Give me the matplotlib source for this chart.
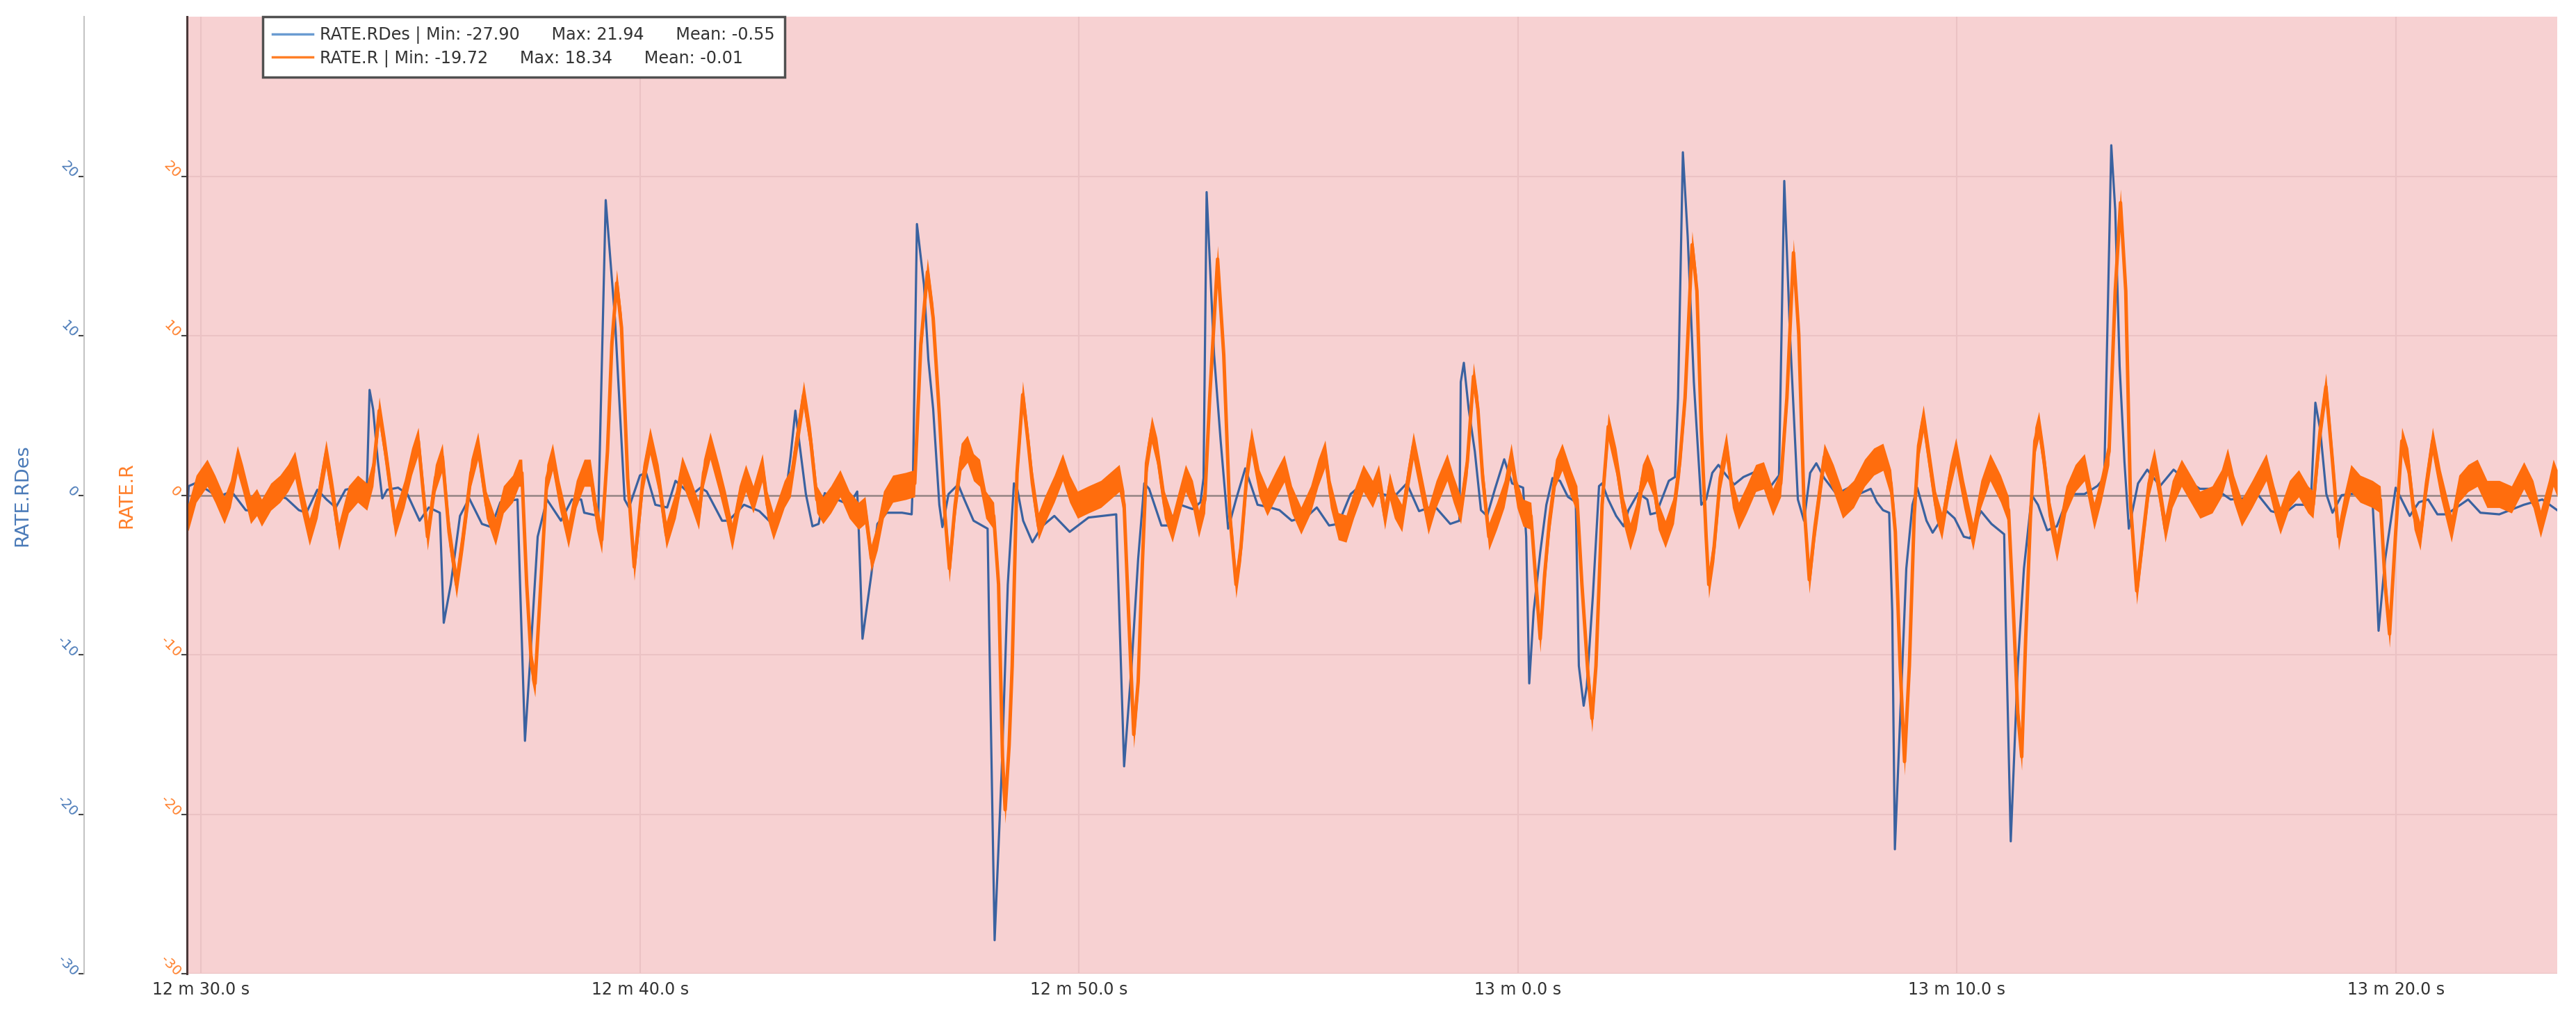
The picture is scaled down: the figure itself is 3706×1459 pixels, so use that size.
import numpy as np
import matplotlib
matplotlib.use("Agg")
import matplotlib.pyplot as plt
from matplotlib.ticker import FuncFormatter
from matplotlib.lines import Line2D

plt.rcParams['font.family'] = ['DejaVu Sans']
plt.rcParams['axes.unicode_minus'] = False

# time in seconds
t_rdes = [749.68, 749.72, 749.86, 750.10, 750.39, 750.60, 750.74, 751.02, 751.24, 751.45,
          751.66, 751.94, 752.23, 752.40, 752.65, 752.86, 753.07, 753.29, 753.50, 753.78,
          753.84, 753.92, 754.03, 754.13, 754.24, 754.49, 754.70, 754.98, 755.19, 755.44,
          755.53, 755.69, 755.90, 756.11, 756.40, 756.61, 756.82, 757.21, 757.28, 757.38,
          757.49, 757.67, 757.88, 758.20, 758.45, 758.66, 758.73, 759.05, 759.22, 759.43,
          759.65, 759.75, 760.00, 760.14, 760.35, 760.62, 760.81, 761.17, 761.38, 761.52,
          761.87, 762.02, 762.37, 762.72, 762.94, 763.29, 763.43, 763.54, 763.64, 763.78,
          763.93, 764.07, 764.21, 764.49, 764.77, 764.95, 764.99, 765.07, 765.27, 765.41,
          765.62, 765.97, 766.19, 766.22, 766.31, 766.47, 766.57, 766.68, 766.82, 766.89,
          767.03, 767.25, 767.39, 767.60, 767.92, 767.95, 768.08, 768.24, 768.38, 768.52,
          768.59, 768.73, 768.94, 769.16, 769.44, 769.79, 770.22, 770.85, 770.92, 771.03,
          771.20, 771.35, 771.49, 771.60, 771.88, 772.02, 772.31, 772.59, 772.77, 772.84,
          772.91, 773.08, 773.23, 773.40, 773.58, 773.79, 774.07, 774.36, 774.57, 774.85,
          775.21, 775.42, 775.70, 775.91, 776.19, 776.48, 776.90, 777.18, 777.47, 777.75,
          778.10, 778.46, 778.67, 778.70, 778.77, 778.88, 779.02, 779.16, 779.30, 779.48,
          779.69, 779.87, 780.12, 780.19, 780.26, 780.36, 780.51, 780.65, 780.79, 780.96,
          781.14, 781.32, 781.39, 781.50, 781.57, 781.71, 781.85, 781.92, 782.06, 782.24,
          782.41, 782.52, 782.74, 782.95, 783.02, 783.16, 783.44, 783.58, 783.65, 783.76,
          783.87, 784.01, 784.18, 784.29, 784.43, 784.57, 784.75, 784.93, 785.14, 785.42,
          785.70, 785.95, 786.07, 786.20, 786.38, 786.52, 786.66, 786.80, 786.98, 787.26,
          787.54, 787.82, 788.04, 788.18, 788.32, 788.46, 788.53, 788.59, 788.71, 788.85,
          788.99, 789.10, 789.31, 789.45, 789.77, 789.95, 790.16, 790.30, 790.55, 790.79,
          791.08, 791.11, 791.23, 791.39, 791.53, 791.71, 791.85, 792.06, 792.28, 792.56,
          792.91, 793.20, 793.36, 793.52, 793.61, 793.71, 793.82, 793.92, 794.13, 794.34,
          794.63, 794.94, 795.19, 795.54, 795.89, 796.24, 796.52, 796.87, 797.16, 797.44,
          797.72, 797.93, 798.07, 798.17, 798.28, 798.42, 798.56, 798.77, 799.12, 799.47,
          799.54, 799.61, 799.76, 800.00, 800.32, 800.53, 800.74, 800.95, 801.16, 801.65,
          801.93, 802.36, 802.92, 803.34, 803.68]
rdes = [-1.5, 0.57, 0.74, 0.4, -0.1, 0.13, 0.07, -0.94, -1.0, -0.27,
        0.07, -0.2, -0.94, -1.1, 0.34, -0.27, -0.77, 0.34, 0.47, 0.67,
        6.6, 5.4, 2.1, -0.2, 0.34, 0.47, 0.07, -1.6, -0.77, -1.1,
        -8.0, -5.6, -1.3, -0.2, -1.8, -2.0, -0.44, -0.27, -6.6, -15.4,
        -10.7, -2.6, -0.27, -1.6, -0.27, -0.27, -1.1, -1.3, 18.5, 11.1,
        -0.27, -0.77, 1.24, 1.4, -0.6, -0.77, 0.9, 0.0, 0.47, 0.23,
        -1.6, -1.6, -0.6, -1.0, -1.6, -0.6, 2.4, 5.3, 3.1, 0.07,
        -1.95, -1.8, 0.13, -0.27, -0.6, 0.23, -2.6, -9.0, -5.0, -1.8,
        -1.1, -1.1, -1.2, 1.07, 17.0, 13.2, 8.5, 5.4, -0.6, -2.0,
        0.07, 0.67, -0.27, -1.6, -2.1, -7.3, -27.9, -17.4, -5.6, 0.74,
        0.47, -1.6, -2.95, -1.95, -1.3, -2.3, -1.4, -1.2, -7.3, -17.0,
        -10.7, -4.0, 0.74, 0.4, -1.9, -1.9, -0.6, -0.87, -0.44, 1.07,
        19.0, 8.8, 3.4, -2.1, -0.27, 1.68, -0.6, -0.77, -0.94, -1.6,
        -1.3, -0.77, -1.9, -1.8, 0.07, 0.74, 0.07, -0.1, 0.74, -1.0,
        -0.67, -1.8, -1.6, 7.1, 8.3, 5.4, 2.75, -0.94, -1.3, 0.4,
        2.25, 0.74, 0.47, -2.6, -11.8, -7.3, -3.6, -0.6, 1.07, 0.9,
        -0.1, -0.44, -10.7, -13.2, -12.0, -6.3, 0.57, 0.74, -0.27, -1.3,
        -1.95, -0.94, 0.13, -0.27, -1.2, -1.1, 0.9, 1.14, 6.1, 21.5,
        16.2, 7.1, -0.6, -0.27, 1.4, 1.9, 1.24, 0.67, 1.14, 1.48,
        0.34, 1.24, 19.7, 10.1, -0.27, -1.6, 1.4, 2.0, 1.07, 0.07,
        0.47, 0.13, 0.4, -0.44, -0.94, -1.1, -7.3, -22.2, -14.0, -4.6,
        -0.6, 0.47, -1.6, -2.35, -1.0, -1.45, -2.6, -2.7, -1.0, -1.8,
        -2.45, -7.3, -21.7, -10.7, -4.6, 0.0, -0.6, -2.2, -1.95, 0.07,
        0.07, 0.57, 1.07, 21.94, 17.9, 8.1, 2.1, -2.1, 0.74, 1.6,
        0.57, 1.6, 1.0, 0.4, 0.4, -0.27, -0.2, 0.0, -1.0, -1.2,
        -0.6, -0.6, -0.27, 5.8, 4.1, 0.07, -1.1, 0.0, 0.13, -0.27,
        -4.0, -8.5, -4.0, 0.47, -1.3, -0.44, -0.27, -1.2, -1.2, -0.27,
        -1.1, -1.2, -0.6, -0.27, -0.94]

t_r = [749.68, 749.72, 749.89, 750.14, 750.32, 750.53, 750.67, 750.83, 750.95, 751.13,
       751.27, 751.38, 751.59, 751.80, 751.98, 752.14, 752.30, 752.47, 752.65, 752.85,
       753.00, 753.14, 753.36, 753.57, 753.78, 753.92, 754.06, 754.20, 754.42, 754.63,
       754.80, 754.95, 755.16, 755.34, 755.50, 755.65, 755.82, 755.97, 756.15, 756.31,
       756.50, 756.71, 756.89, 757.10, 757.24, 757.31, 757.42, 757.53, 757.61, 757.74,
       757.88, 758.01, 758.16, 758.37, 758.55, 758.73, 758.87, 759.01, 759.13, 759.26,
       759.36, 759.47, 759.58, 759.72, 759.87, 760.07, 760.23, 760.42, 760.60, 760.81,
       760.96, 761.17, 761.34, 761.45, 761.60, 761.80, 761.95, 762.10, 762.26, 762.41,
       762.58, 762.79, 762.90, 763.04, 763.29, 763.43, 763.61, 763.73, 763.89, 764.03,
       764.17, 764.35, 764.56, 764.77, 764.98, 765.13, 765.27, 765.41, 765.55, 765.76,
       766.05, 766.26, 766.40, 766.55, 766.68, 766.82, 766.95, 767.05, 767.18, 767.32,
       767.46, 767.60, 767.74, 767.88, 768.06, 768.17, 768.26, 768.32, 768.41, 768.48,
       768.59, 768.72, 768.84, 768.94, 769.08, 769.22, 769.44, 769.63, 769.79, 769.97,
       770.22, 770.50, 770.71, 770.92, 771.03, 771.13, 771.25, 771.35, 771.45, 771.54,
       771.66, 771.78, 771.95, 772.13, 772.27, 772.43, 772.59, 772.73, 772.87, 772.98,
       773.16, 773.30, 773.44, 773.58, 773.69, 773.83, 773.93, 774.11, 774.29, 774.50,
       774.68, 774.85, 775.06, 775.28, 775.45, 775.61, 775.73, 775.91, 776.09, 776.26,
       776.48, 776.69, 776.83, 776.97, 777.08, 777.19, 777.36, 777.48, 777.62, 777.79,
       777.96, 778.14, 778.39, 778.53, 778.70, 778.85, 778.99, 779.09, 779.20, 779.34,
       779.52, 779.69, 779.85, 779.98, 780.12, 780.30, 780.40, 780.51, 780.61, 780.72,
       780.86, 781.01, 781.21, 781.35, 781.46, 781.60, 781.69, 781.78, 781.92, 782.06,
       782.24, 782.41, 782.56, 782.70, 782.84, 782.95, 783.09, 783.20, 783.36, 783.55,
       783.69, 783.81, 783.97, 784.08, 784.18, 784.29, 784.35, 784.47, 784.61, 784.75,
       784.89, 785.03, 785.21, 785.42, 785.60, 785.81, 785.99, 786.13, 786.28, 786.40,
       786.52, 786.64, 786.77, 786.98, 787.19, 787.40, 787.65, 787.90, 788.11, 788.32,
       788.50, 788.60, 788.71, 788.81, 788.92, 789.03, 789.13, 789.24, 789.38, 789.52,
       789.66, 789.84, 789.98, 790.16, 790.37, 790.55, 790.76, 791.00, 791.18, 791.29,
       791.39, 791.48, 791.57, 791.68, 791.78, 791.87, 791.99, 792.13, 792.28, 792.49,
       792.70, 792.91, 793.13, 793.29, 793.47, 793.61, 793.73, 793.85, 793.96, 794.10,
       794.24, 794.38, 794.50, 794.63, 794.75, 794.91, 795.12, 795.33, 795.54, 795.82,
       796.03, 796.17, 796.31, 796.49, 796.73, 797.05, 797.23, 797.37, 797.58, 797.79,
       798.00, 798.12, 798.28, 798.41, 798.56, 798.70, 798.84, 798.98, 799.19, 799.47,
       799.65, 799.76, 799.86, 800.00, 800.14, 800.28, 800.42, 800.56, 800.70, 800.84,
       801.02, 801.27, 801.44, 801.65, 801.86, 802.08, 802.36, 802.64, 802.92, 803.13,
       803.30, 803.48, 803.59, 803.68]
r = [-1.5, -1.3, 0.4, 1.4, 0.4, -0.94, 0.07, 2.25, 1.07, -0.94,
     -0.44, -1.1, -0.1, 0.4, 1.07, 1.9, -0.27, -2.3, -0.6, 2.6,
     0.07, -2.6, -0.27, 0.4, -0.1, 1.4, 5.3, 2.75, -1.8, 0.07,
     2.1, 3.4, -2.6, 1.07, 2.4, -2.3, -5.6, -2.6, 1.4, 3.1,
     -0.6, -2.3, -0.27, 0.4, 1.4, 1.4, -5.6, -10.7, -11.8, -5.6,
     1.07, 2.4, 0.07, -2.45, 0.07, 1.4, 1.4, -1.3, -2.8, 2.75,
     9.5, 13.3, 10.5, 1.07, -4.5, 1.07, 3.4, 1.07, -2.5, -0.6,
     1.6, 0.07, -1.3, 1.4, 3.1, 1.07, -0.6, -2.6, -0.27, 1.07,
     -0.27, 1.75, -0.6, -1.95, 0.07, 0.74, 4.1, 6.3, 3.4, -0.27,
     -0.94, -0.27, 0.74, -0.6, -1.3, -0.94, -3.95, -2.6, -0.6, 0.4,
     0.57, 0.74, 9.5, 14.0, 11.1, 5.1, -1.3, -4.6, -0.6, 2.4,
     2.9, 1.75, 1.4, -0.6, -1.3, -5.6, -16.4, -19.72, -15.7, -10.7,
     1.4, 6.3, 3.4, 0.74, -1.95, -0.94, 0.4, 1.75, 0.4, -0.6,
     -0.27, 0.07, 0.57, 1.07, -0.6, -7.3, -15.0, -11.7, -4.0, 2.0,
     4.1, 2.75, -0.6, -2.1, -0.6, 1.07, 0.07, -1.8, -0.27, 6.1,
     14.8, 8.8, -1.3, -5.6, -3.3, 1.4, 3.4, 0.74, -0.44, 0.74,
     1.68, -0.27, -1.6, -0.27, 1.4, 2.6, 0.07, -1.95, -2.1, -0.6,
     1.07, 0.07, 1.07, -1.3, 0.57, -0.6, -1.45, 0.74, 3.1, 0.74,
     -1.6, 0.07, 1.75, 0.4, -0.94, 2.1, 7.45, 5.4, 1.07, -2.6,
     -1.3, 0.07, 2.4, 0.07, -1.1, -1.3, -5.0, -9.0, -5.0, -1.6,
     1.4, 2.4, 0.74, -0.27, -5.6, -11.3, -14.0, -10.7, -0.6, 4.3,
     2.1, -1.0, -2.6, -1.3, 1.07, 1.75, 0.74, -1.3, -2.45, -0.94,
     2.1, 6.1, 15.7, 12.8, 4.1, -2.6, -5.6, -3.3, 1.07, 3.1,
     0.07, -1.3, -0.27, 1.07, 1.24, -0.44, 0.74, 6.1, 15.2, 10.1,
     -0.6, -5.3, -1.95, 2.4, 1.07, -0.6, 0.07, 1.4, 2.1, 2.4,
     0.74, -2.3, -10.7, -16.7, -10.7, -1.3, 3.1, 4.8, 2.1, -0.6,
     -1.95, 1.07, 2.75, 0.07, -2.6, 0.07, 1.75, 0.4, -0.94, -7.3,
     -13.7, -16.4, -9.0, -1.3, 3.4, 4.4, 2.1, -1.3, -3.3, -0.27,
     1.07, 1.75, -1.3, 0.4, 2.75, 12.8, 18.34, 12.8, -0.6, -6.0,
     -2.6, 0.74, 2.1, 0.07, -2.1, 0.07, 1.4, 0.4, -0.6, -0.27,
     0.74, 2.1, 0.4, -1.1, 0.07, 1.75, -0.27, -1.6, 0.07, 0.74,
     -0.27, -0.6, 4.1, 6.8, 2.1, -2.6, -0.6, 1.07, 0.4, 0.07,
     -0.27, -5.6, -8.7, -2.3, 3.4, 2.1, -1.3, -2.6, 0.74, 3.4,
     0.74, -2.1, 0.4, 1.07, 1.4, 0.07, 0.07, -0.27, 1.24, 0.07,
     -1.8, 0.07, 1.4, 0.74]

legend_labels = ["RATE.RDes | Min: -27.90      Max: 21.94      Mean: -0.55",
                 "RATE.R | Min: -19.72      Max: 18.34      Mean: -0.01"]
y_ticks = [-30, -20, -10, 0, 10, 20]
x_ticks = [750, 760, 770, 780, 790, 800]

BLUE = '#3a62a0'
BLUE_TXT = '#4a7ab8'
ORANGE = '#ff6d0d'
ORANGE_TXT = '#ff7f2a'
NOISE_HALF = 0.85  # visual half-thickness of the noisy orange trace

W, H = 3706, 1459
fig = plt.figure(figsize=(W / 100, H / 100), dpi=100)
ax_b = fig.add_axes([269 / W, 1 - 1401 / H, 3410 / W, 1377 / H])
ax = ax_b.twinx()
ax.set_zorder(ax_b.get_zorder() + 1)
ax.patch.set_visible(False)
ax_b.set_facecolor('#f7d1d2')

for a in (ax, ax_b):
    a.set_xlim(749.68, 803.68)
    a.set_ylim(-30, 30)
    for s in ('top', 'right', 'bottom'):
        a.spines[s].set_visible(False)

ax_b.set_xticks(x_ticks)
ax_b.grid(True, color='#ebc2c4', lw=1.5)
ax_b.set_axisbelow(True)
ax_b.axhline(0, color='#958585', lw=1.8, zorder=1.5)
ax_b.plot(t_rdes, rdes, color=BLUE, lw=2.3, zorder=2)

r_arr = np.array(r)
ax.fill_between(t_r, r_arr - NOISE_HALF, r_arr + NOISE_HALF, color=ORANGE, lw=0)
ax.plot(t_r, r, color=ORANGE, lw=3.6)

# x axis
ax_b.xaxis.set_major_formatter(FuncFormatter(lambda v, p: f"{int(v // 60)} m {v % 60:.1f} s"))
ax_b.tick_params(axis='x', length=0, pad=8, labelsize=17, labelcolor='#333333')

# blue axis, pushed out to the left
ax_b.spines['left'].set_position(('outward', 106.6))
ax_b.spines['left'].set_color('#c4c4c4')
ax_b.spines['left'].set_linewidth(1.5)
ax_b.set_yticks(y_ticks)
ax_b.set_yticklabels([str(v) for v in y_ticks], rotation=-45, ha='right', va='center',
                     rotation_mode='anchor', color=BLUE_TXT, fontsize=14.5)
ax_b.tick_params(axis='y', length=5.8, width=1.5, color='#444444', pad=3)
ax_b.set_ylabel('RATE.RDes', color=BLUE_TXT, fontsize=19.5)
ax_b.yaxis.set_label_coords(-0.0657, 0.5)

# orange axis, at the plot edge
ax.yaxis.tick_left()
ax.yaxis.set_label_position('left')
ax.spines['left'].set_visible(True)
ax.spines['left'].set_color('#4a3838')
ax.spines['left'].set_linewidth(2.2)
ax.set_yticks(y_ticks)
ax.set_yticklabels([str(v) for v in y_ticks], rotation=-45, ha='right', va='center',
                   rotation_mode='anchor', color=ORANGE_TXT, fontsize=14.5)
ax.tick_params(axis='y', length=5.8, width=1.5, color='#444444', pad=3)
ax.set_ylabel('RATE.R', color=ORANGE_TXT, fontsize=19.5)
ax.yaxis.set_label_coords(-0.0217, 0.5)

handles = [Line2D([], [], color='#6a9bd1', lw=2.5), Line2D([], [], color='#ff7f27', lw=2.5)]
leg = ax.legend(handles, legend_labels, loc='upper left', bbox_to_anchor=(109 / 3410, 1.0),
                borderaxespad=0, frameon=True, fancybox=False, edgecolor='#505050',
                framealpha=1, fontsize=17.2, handlelength=2.4, handletextpad=0.45,
                borderpad=0.6, labelspacing=0.35, labelcolor='#333333')
leg.get_frame().set_linewidth(2.5)

fig.savefig('out.png', dpi=100)
